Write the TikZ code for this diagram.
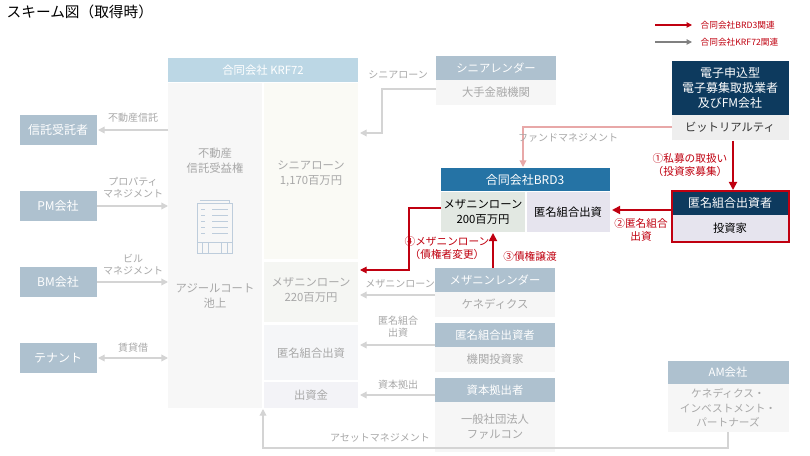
\documentclass[tikz,border=0pt]{standalone}
\usepackage{fontspec}
\setmainfont{Noto Sans CJK JP}
\usetikzlibrary{arrows.meta}
\definecolor{hdr}{HTML}{AEC1CF}
\definecolor{krf}{HTML}{BCD7E5}
\definecolor{navy}{HTML}{0D3A5E}
\definecolor{brd}{HTML}{2573A5}
\definecolor{redc}{HTML}{C00010}
\definecolor{gtxt}{HTML}{A8A8A8}
\definecolor{gline}{HTML}{D4D4D4}
\definecolor{pinkl}{HTML}{E8A8A8}
\definecolor{cA}{RGB}{250,250,245}
\definecolor{cB}{RGB}{245,246,243}
\definecolor{cC}{RGB}{245,246,248}
\definecolor{cD}{RGB}{243,243,247}
\definecolor{cE}{RGB}{246,246,246}
\definecolor{cF}{RGB}{238,238,238}
\definecolor{cG}{RGB}{226,232,226}
\definecolor{cH}{RGB}{230,228,238}
\definecolor{cI}{RGB}{190,205,220}
\tikzset{
 gtext/.style={text=gtxt, font=\fontsize{7.5}{9}\selectfont, align=center},
 btext/.style={text=gtxt, font=\fontsize{8.5}{11}\selectfont, align=center},
 wtext/.style={text=white, font=\fontsize{8.5}{10}\selectfont, align=center},
 gar/.style={draw=gline, line width=1pt, -{Triangle[length=5pt,width=5pt]}},
 rar/.style={draw=redc, line width=1.3pt, -{Triangle[length=6pt,width=6pt]}},
 rtext/.style={text=redc, font=\fontsize{7.5}{9}\selectfont, align=center},
}
\begin{document}
\begin{tikzpicture}[x=0.75pt,y=-0.75pt]
\useasboundingbox (0,0) rectangle (810,456);
\fill[white] (0,0) rectangle (810,456);
\node[anchor=west,font=\fontsize{11}{13}\selectfont] (title) at (2,12) {スキーム図（取得時）};
% legend
\coordinate (l1a) at (655,25); \coordinate (l1b) at (692,25);
\draw[draw=redc,line width=0.8pt,-{Triangle[length=4pt,width=4pt]}] (l1a) -- (l1b);
\node[anchor=west,text=redc,font=\fontsize{6.5}{8}\selectfont] (lg1) at (696,25) {合同会社BRD3関連};
\coordinate (l2a) at (655,42); \coordinate (l2b) at (692,42);
\draw[draw=gray,line width=0.8pt,-{Triangle[length=4pt,width=4pt]}] (l2a) -- (l2b);
\node[anchor=west,text=redc,font=\fontsize{6.5}{8}\selectfont] (lg2) at (696,42) {合同会社KRF72関連};
% KRF72
\fill[krf] (168,58) rectangle (358,82);
\node[wtext] (krf) at (263,70) {合同会社 KRF72};
\fill[black!3] (168,83) rectangle (262,408);
\fill[cA] (264,83) rectangle (358,259);
\fill[cB] (264,262) rectangle (358,322);
\fill[cC] (264,325) rectangle (358,380);
\fill[cD] (264,382) rectangle (358,408);
\node[btext] (asset) at (215,161) {不動産\\信託受益権};
\node[btext] (ikeg) at (215,296) {アジールコート\\池上};
\node[btext] (sen) at (311,174) {シニアローン\\1,170百万円};
\node[btext] (mez) at (311,290) {メザニンローン\\220百万円};
\node[btext] (tk) at (311,353) {匿名組合出資};
\node[btext] (shk) at (311,395) {出資金};
% building icon
\begin{scope}[draw=cI,line width=0.6pt]
\draw (197,203) rectangle (232,253);
\draw (200,200) -- (229,200) -- (229,203);
\draw (197,242) -- (232,242);
\draw (208,242)--(208,253) (221,242)--(221,253) (202,242)--(202,253) (227,242)--(227,253);
\foreach \yy in {209,215,221,227,233}{\draw (201,\yy)--(205,\yy); \draw (212,\yy)--(228,\yy);}
\end{scope}
% left boxes
\foreach \n/\t/\y in {tr/信託受託者/115,pm/PM会社/191,bm/BM会社/267,tn/テナント/343}{
 \fill[hdr] (20,\y) rectangle (97,\y+30);
 \node[wtext,font=\fontsize{9}{10}\selectfont] (\n) at (58,\y+15) {\t};
}
\coordinate (a1s) at (168,130); \coordinate (a1e) at (98,130);
\draw[gar] (a1s) -- (a1e);
\node[gtext] at (133,118) {不動産信託};
\coordinate (a2s) at (97,206); \coordinate (a2e) at (168,206);
\draw[gar] (a2s) -- (a2e);
\node[gtext] at (133,188) {プロパティ\\マネジメント};
\coordinate (a3s) at (97,282); \coordinate (a3e) at (168,282);
\draw[gar] (a3s) -- (a3e);
\node[gtext] at (133,265) {ビル\\マネジメント};
\coordinate (a4s) at (98,358); \coordinate (a4e) at (168,358);
\draw[gar,{Triangle[length=5pt,width=5pt]}-{Triangle[length=5pt,width=5pt]}] (a4s) -- (a4e);
\node[gtext] at (133,348) {賃貸借};
% right lenders
\newcommand{\lender}[6]{% name, x1, y, header text, body text, body height
 \fill[hdr] (#2,#3) rectangle (#2+120,#3+24);
 \fill[cE] (#2,#3+24) rectangle (#2+120,#3+24+#6);
 \node[wtext] (#1h) at (#2+60,#3+12) {#4};
 \node[btext] (#1) at (#2+60,#3+24+#6/2) {#5};
}
\lender{sl}{436}{56}{シニアレンダー}{大手金融機関}{25}
\lender{ml}{435}{268}{メザニンレンダー}{ケネディクス}{25}
\lender{il}{435}{323}{匿名組合出資者}{機関投資家}{25}
\lender{cl}{435}{378}{資本拠出者}{一般社団法人\\ファルコン}{50}
\coordinate (s1) at (436,89);
\coordinate (s2) at (360,133);
\draw[gar] (s1) -| (382,133) -- (s2);
\node[gtext] at (398,75) {シニアローン};
\coordinate (m1) at (435,295); \coordinate (m2) at (360,295);
\draw[gar] (m1) -- (m2); \node[gtext] at (400,284) {メザニンローン};
\coordinate (i1) at (435,345); \coordinate (i2) at (360,345);
\draw[gar] (i1) -- (i2); \node[gtext] at (398,327) {匿名組合\\出資};
\coordinate (c1) at (435,395); \coordinate (c2) at (360,395);
\draw[gar] (c1) -- (c2); \node[gtext] at (398,385) {資本拠出};
% AM
\fill[hdr] (668,361) rectangle (789,384);
\fill[cE] (668,384) rectangle (789,432);
\node[wtext] (amh) at (728,372) {AM会社};
\node[btext,font=\fontsize{8}{11}\selectfont] (am) at (728,408) {ケネディクス・\\インベストメント・\\パートナーズ};
\coordinate (am1) at (728,432); \coordinate (am2) at (263,409);
\draw[gar] (am1) |- (263,448) -- (am2);
\node[gtext] at (380,438) {アセットマネジメント};
% FM
\fill[navy] (672,61) rectangle (789,115);
\fill[cF] (672,115) rectangle (789,140);
\node[wtext,font=\fontsize{9}{11.5}\selectfont] (fmh) at (730,88) {電子申込型\\電子募集取扱業者\\及びFM会社};
\node[font=\fontsize{8.5}{10}\selectfont,text=black!80] (fm) at (730,127) {ビットリアルティ};
\coordinate (f1) at (672,127); \coordinate (f2) at (523,167);
\draw[draw=pinkl,line width=1pt,-{Triangle[length=5pt,width=5pt]}] (f1) -| (f2);
\node[gtext] at (568,138) {ファンドマネジメント};
% BRD3
\fill[brd] (441,168) rectangle (610,191);
\node[wtext,font=\fontsize{9}{10}\selectfont] (brdh) at (525,180) {合同会社BRD3};
\fill[cG] (441,192) rectangle (525,232);
\fill[cH] (527,192) rectangle (610,232);
\node[font=\fontsize{8.5}{11}\selectfont,align=center] (bm) at (483,212) {メザニンローン\\200百万円};
\node[font=\fontsize{8.5}{10}\selectfont] (bt) at (568,212) {匿名組合出資};
% investor
\fill[navy] (672,192) rectangle (789,215);
\fill[cH] (672,215) rectangle (789,241);
\draw[redc,line width=1.3pt] (672,191) rectangle (789,242);
\node[wtext,font=\fontsize{9}{10}\selectfont] (invh) at (730,203) {匿名組合出資者};
\node[font=\fontsize{8.5}{10}\selectfont] (inv) at (730,228) {投資家};
% red arrows
\coordinate (r1a) at (733,141); \coordinate (r1b) at (733,190);
\draw[rar] (r1a) -- (r1b);
\node[rtext,font=\fontsize{8}{10}\selectfont] at (690,165) {①私募の取扱い\\（投資家募集）};
\coordinate (r2a) at (671,210); \coordinate (r2b) at (612,210);
\draw[rar] (r2a) -- (r2b);
\node[rtext,font=\fontsize{8}{10}\selectfont] at (641,230) {②匿名組合\\出資};
\coordinate (r3a) at (493,268); \coordinate (r3b) at (493,233);
\draw[rar] (r3a) -- (r3b);
\node[rtext,font=\fontsize{8}{10}\selectfont] at (530,256) {③債権譲渡};
\coordinate (r4a) at (441,208); \coordinate (r4b) at (360,270);
\draw[draw=redc,line width=0.8pt,-{Triangle[length=5pt,width=5pt]}] (r4a) -| (409,270) -- (r4b);
\node[rtext,font=\fontsize{8}{10}\selectfont] at (447,248) {④メザニンローン\\（債権者変更）};
\end{tikzpicture}
\end{document}
